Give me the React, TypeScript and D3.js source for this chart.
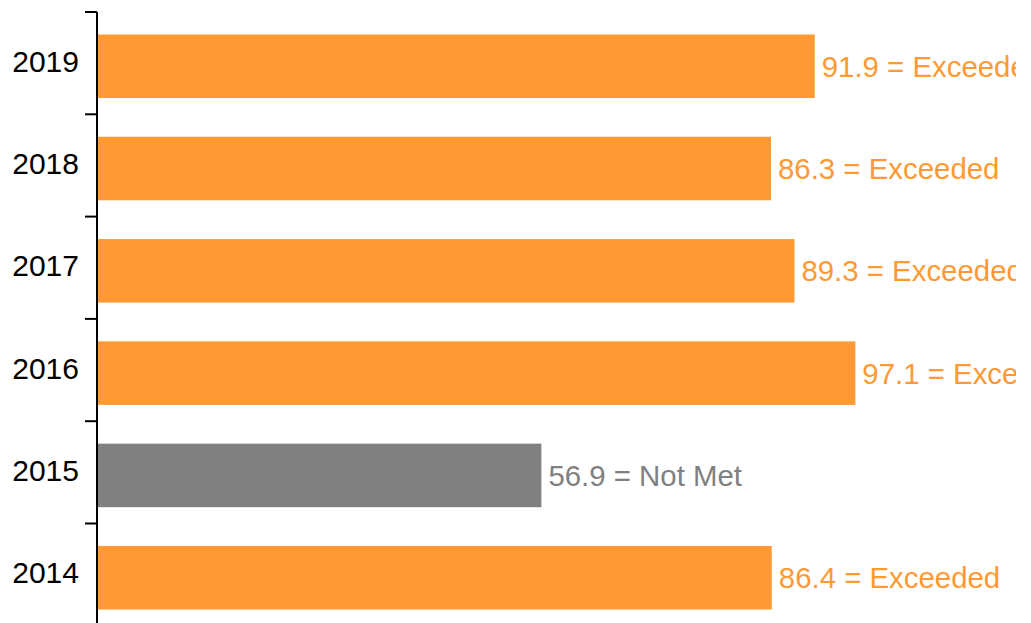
import React from "react";
import * as d3 from "d3";

const years = ["2019", "2018", "2017", "2016", "2015", "2014"];
const values = [91.9, 86.3, 89.3, 97.1, 56.9, 86.4];
const ratings = ["Exceeded", "Exceeded", "Exceeded", "Exceeded", "Not Met", "Exceeded"];

const ORANGE = "#FF9933";
const GREY = "#808080";

export default function App() {
  const W = 1031;
  const H = 623;
  const axisX = 97;
  const top = 12;
  const step = 102.3;
  const pi = 0.379;
  const po = 0.205;
  const bandStart = 13.5;

  const x = d3.scaleLinear().domain([0, 100]).range([axisX, axisX + 781]);
  const y = d3
    .scaleBand<string>()
    .domain(years)
    .range([bandStart, bandStart + step * (years.length - pi + 2 * po)])
    .paddingInner(pi)
    .paddingOuter(po);
  const tickY = (i: number) => top + i * step;

  return (
    <div style={{ position: "absolute", left: 0, top: 0 }}>
      <svg width={W} height={H} style={{ display: "block", fontFamily: "'Liberation Sans', Arial, sans-serif" }}>
        <defs>
          <clipPath id="plotclip">
            <rect x={0} y={0} width={1016} height={H} />
          </clipPath>
        </defs>
        <g clipPath="url(#plotclip)">
          {years.map((yr, i) => {
            const y0 = y(yr)!;
            const bw = y.bandwidth();
            const c = ratings[i] === "Not Met" ? GREY : ORANGE;
            return (
              <g key={yr}>
                <rect x={x(0) + 1} y={y0} width={x(values[i]) - x(0) - 1} height={bw} fill={c} />
                <text x={x(values[i]) + 7} y={y0 + bw / 2 + 10.5} fontSize={29.4} fill={c}>
                  {`${values[i].toFixed(1)} = ${ratings[i]}`}
                </text>
                <text x={79} y={y0 + bw / 2 + 5.5} fontSize={30} fill="#000" textAnchor="end">
                  {yr}
                </text>
              </g>
            );
          })}
        </g>
        <line x1={axisX} x2={axisX} y1={top} y2={H} stroke="#000" strokeWidth={2} />
        {years.map((_, i) => (
          <line key={i} x1={axisX - 12} x2={axisX} y1={tickY(i)} y2={tickY(i)} stroke="#000" strokeWidth={2} />
        ))}
      </svg>
    </div>
  );
}
